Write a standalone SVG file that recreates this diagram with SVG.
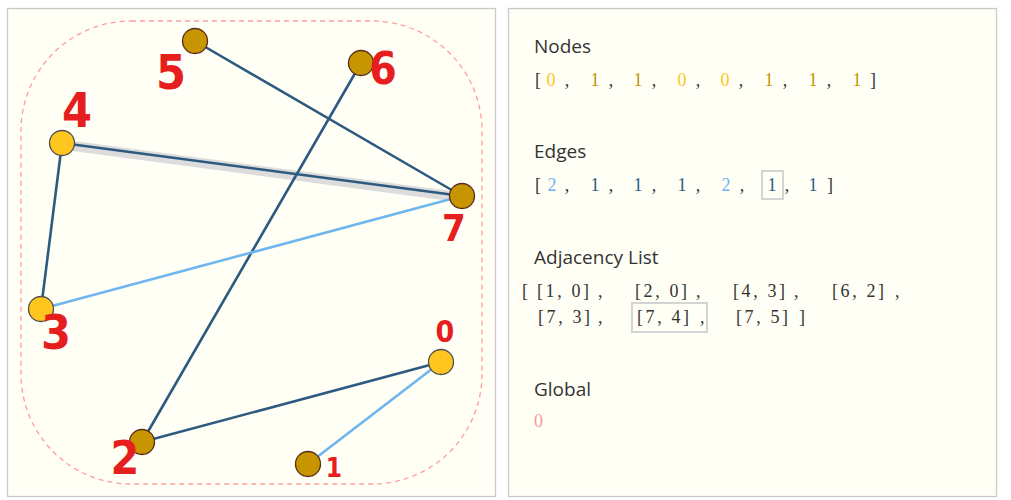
<svg xmlns="http://www.w3.org/2000/svg" width="1011" height="500" viewBox="0 0 1011 500">
<style>
.panel{fill:#fffff6;stroke:#c9c9c9;stroke-width:1.3}
.dark{stroke:#2e5a80;stroke-width:2.6;fill:none;stroke-linecap:round}
.light{stroke:#6fb5ee;stroke-width:2.6;fill:none;stroke-linecap:round}
.hl{stroke:#dcdcdc;stroke-width:10;fill:none}
.on{fill:#fec61f;stroke:#4f4f4f;stroke-width:1.3}
.off{fill:#c69500;stroke:#5a2a1a;stroke-width:1.3}
.lbl{font-family:"DejaVu Sans","Liberation Sans",sans-serif;font-stretch:condensed;font-weight:bold;fill:#e61e1e;text-anchor:middle}
.title{font-family:"Open Sans","Noto Sans",sans-serif;font-size:19px;fill:#333}
.arr{font-family:"Liberation Serif",serif;font-size:18px;fill:#333}
.c{text-anchor:middle}
.y{fill:#fec61f}.g{fill:#c69500}.lb{fill:#6fb5ee}.db{fill:#2e5a80}
.box{fill:none;stroke:#d4d4d4;stroke-width:2}
</style>
<rect class="panel" x="7.5" y="8.5" width="488" height="488"/>
<rect class="panel" x="508.5" y="8.5" width="488" height="488"/>
<rect x="21" y="21" width="461" height="463" rx="110" ry="110" fill="none" stroke="#ff9d9d" stroke-width="1.3" stroke-dasharray="5,4"/>
<g id="connectors">
<line class="hl" x1="62" y1="144.5" x2="462" y2="197.5"/>
<line class="light" x1="308" y1="464" x2="441" y2="362"/>
<line class="dark" x1="142" y1="442" x2="441" y2="362"/>
<line class="dark" x1="62" y1="143" x2="41" y2="309"/>
<line class="dark" x1="361" y1="63" x2="142" y2="442"/>
<line class="light" x1="462" y1="196" x2="41" y2="309"/>
<line class="dark" x1="462" y1="196" x2="62" y2="143"/>
<line class="dark" x1="462" y1="196" x2="195" y2="41"/>
</g>
<g id="node0"><circle class="on" cx="441" cy="362" r="12.5"/><text class="lbl" x="445" y="342" font-size="30">0</text></g>
<g id="node1"><circle class="off" cx="308" cy="464" r="12.5"/><text class="lbl" x="334" y="477" font-size="26">1</text></g>
<g id="node2"><circle class="off" cx="142" cy="442" r="12.5"/><text class="lbl" x="125" y="474" font-size="46">2</text></g>
<g id="node3"><circle class="on" cx="41" cy="309" r="12.5"/><text class="lbl" x="56" y="349" font-size="48">3</text></g>
<g id="node4"><circle class="on" cx="62" cy="143" r="12.5"/><text class="lbl" x="77" y="127" font-size="48">4</text></g>
<g id="node5"><circle class="off" cx="195" cy="41" r="12.5"/><text class="lbl" x="171" y="89" font-size="48">5</text></g>
<g id="node6"><circle class="off" cx="361" cy="63" r="12.5"/><text class="lbl" x="383" y="84" font-size="44">6</text></g>
<g id="node7"><circle class="off" cx="462" cy="196" r="12.5"/><text class="lbl" x="454" y="241" font-size="38">7</text></g>

<g id="nodes-panel">
<text class="title" x="534" y="53">Nodes</text>
<g class="arr c">
<text x="538" y="86">[</text>
<text class="y" x="551" y="86">0</text><text x="567" y="86">,</text>
<text class="g" x="595" y="86">1</text><text x="611" y="86">,</text>
<text class="g" x="638" y="86">1</text><text x="654" y="86">,</text>
<text class="y" x="682" y="86">0</text><text x="698" y="86">,</text>
<text class="y" x="725" y="86">0</text><text x="741" y="86">,</text>
<text class="g" x="769" y="86">1</text><text x="785" y="86">,</text>
<text class="g" x="813" y="86">1</text><text x="829" y="86">,</text>
<text class="g" x="857" y="86">1</text>
<text x="873" y="86">]</text>
</g>
</g>
<g id="edges-panel">
<text class="title" x="534" y="158">Edges</text>
<rect class="box" x="762" y="171" width="21" height="28"/>
<g class="arr c">
<text x="538" y="191">[</text>
<text class="lb" x="552" y="191">2</text><text x="567" y="191">,</text>
<text class="db" x="595" y="191">1</text><text x="611" y="191">,</text>
<text class="db" x="638" y="191">1</text><text x="654" y="191">,</text>
<text class="db" x="682" y="191">1</text><text x="698" y="191">,</text>
<text class="lb" x="726" y="191">2</text><text x="742" y="191">,</text>
<text class="db" x="772" y="191">1</text><text x="787" y="191">,</text>
<text class="db" x="813" y="191">1</text>
<text x="830" y="191">]</text>
</g>
</g>
<g id="adjacency-panel">
<text class="title" x="534" y="264">Adjacency List</text>
<rect class="box" x="632" y="303" width="75" height="29"/>
<g class="arr">
<text x="522" y="297">[</text>
<text x="537" y="297" textLength="52" lengthAdjust="spacing">[1, 0]</text><text x="598" y="297">,</text>
<text x="635" y="297" textLength="52" lengthAdjust="spacing">[2, 0]</text><text x="696" y="297">,</text>
<text x="733" y="297" textLength="52" lengthAdjust="spacing">[4, 3]</text><text x="794" y="297">,</text>
<text x="832" y="297" textLength="52" lengthAdjust="spacing">[6, 2]</text><text x="895" y="297">,</text>
<text x="538" y="323" textLength="52" lengthAdjust="spacing">[7, 3]</text><text x="598" y="323">,</text>
<text x="637" y="323" textLength="52" lengthAdjust="spacing">[7, 4]</text><text x="700" y="323">,</text>
<text x="736" y="323" textLength="52" lengthAdjust="spacing">[7, 5]</text>
<text x="799" y="323">]</text>
</g>
</g>
<g id="global-panel">
<text class="title" x="534" y="396">Global</text>
<text class="arr" x="534" y="427" style="fill:#f59a9a">0</text>
</g>
</svg>
